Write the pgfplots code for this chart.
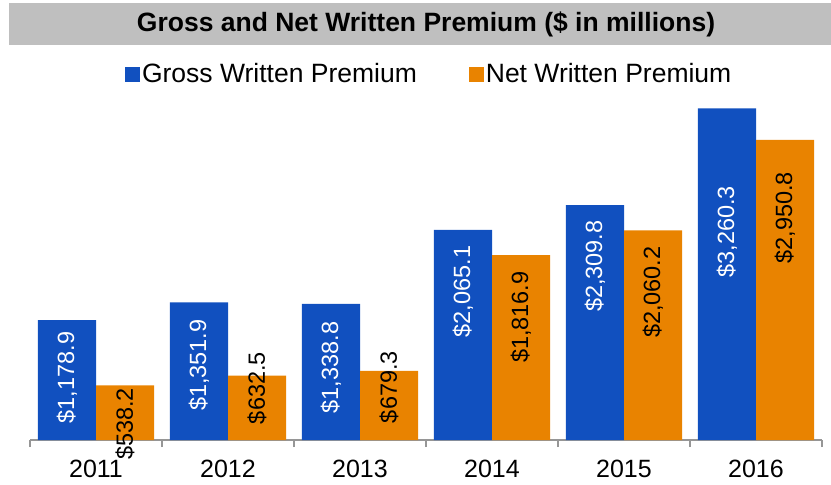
\documentclass[border=0pt]{standalone}
\usepackage{pgfplots}
\pgfplotsset{compat=1.18}
\usepackage{pgfplotstable}
\usepackage{fontspec}
\setmainfont{Liberation Sans}
\definecolor{gwp}{RGB}{17,80,191}
\definecolor{nwp}{RGB}{233,131,0}
\definecolor{titlegray}{RGB}{191,191,191}
\definecolor{axgray}{RGB}{150,150,150}

\pgfplotstableread{
x gross net gl nl
0 1178.9 538.2 614 157
1 1351.9 632.5 736 510
2 1338.8 679.3 712 520
3 2065.1 1816.9 1460 1208
4 2309.8 2060.2 1709 1453
5 3260.3 2950.8 2047 2185
}\premtable

\begin{document}
\begin{tikzpicture}[x=1pt,y=1pt]
\useasboundingbox (0,0) rectangle (831,485);
\fill[titlegray] (9,440) rectangle (831,482);
\node[font=\fontsize{26.5}{30}\selectfont\bfseries] at (426,461) {Gross and Net Written Premium (\$ in millions)};
\begin{axis}[
 at={(30pt,45pt)}, anchor=south west,
 scale only axis, width=792pt, height=356pt,
 xmin=-0.5, xmax=5.5, ymin=0, ymax=3500,
 clip=false,
 hide y axis,
 axis x line*=bottom,
 x axis line style={axgray, line width=1.2pt, -},
 xtick={0,1,2,3,4,5},
 xticklabels={2011,2012,2013,2014,2015,2016},
 major tick length=0pt,
 minor xtick={-0.5,0.5,1.5,2.5,3.5,4.5,5.5},
 minor tick length=7pt,
 tick align=outside,
 tick style={axgray, line width=1.2pt},
 xticklabel style={font=\fontsize{25}{28}\selectfont, anchor=base, yshift=-37pt},
 /pgf/number format/assume math mode=true,
 legend style={at={(0.504,1.028)}, anchor=center, draw=none, fill=none,
   legend columns=2, font=\fontsize{26.5}{30}\selectfont,
   /tikz/every even column/.append style={column sep=50pt},
   inner sep=0pt},
 legend cell align=left,
 legend image code/.code={\fill[#1] (0pt,-7.5pt) rectangle (15pt,7.5pt);},
]
\addplot[ybar, bar width=0.44, bar shift=-0.22, fill=gwp, draw=none] table[x=x,y=gross]{\premtable};
\addlegendentry{Gross Written Premium}
\addplot[ybar, bar width=0.44, bar shift=0.22, fill=nwp, draw=none] table[x=x,y=net]{\premtable};
\addlegendentry{Net Written Premium}

\addplot[forget plot, draw=none, mark=none, point meta=explicit,
  nodes near coords={\$\pgfmathprintnumber[fixed,fixed zerofill,precision=1,1000 sep={,}]{\pgfplotspointmeta}},
  nodes near coords style={rotate=90, anchor=center, text=white, font=\fontsize{23.5}{26}\selectfont, inner sep=0pt}]
  table[x expr=\thisrow{x}-0.22, y=gl, meta=gross]{\premtable};
\addplot[forget plot, draw=none, mark=none, point meta=explicit,
  nodes near coords={\$\pgfmathprintnumber[fixed,fixed zerofill,precision=1,1000 sep={,}]{\pgfplotspointmeta}},
  nodes near coords style={rotate=90, anchor=center, text=black, font=\fontsize{23.5}{26}\selectfont, inner sep=0pt}]
  table[x expr=\thisrow{x}+0.22, y=nl, meta=net]{\premtable};
\end{axis}
\end{tikzpicture}
\end{document}
